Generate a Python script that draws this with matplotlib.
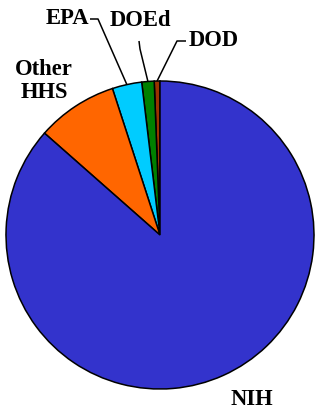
import numpy as np
import matplotlib
matplotlib.use("Agg")
import matplotlib.pyplot as plt

# Data (counterclockwise from top)
labels = ["DOD", "DOEd", "EPA", "Other\nHHS", "NIH"]
values = [0.6, 1.3, 3.1, 8.5, 86.5]
colors = ["#993300", "#008000", "#00CCFF", "#FF6600", "#3333CC"]

W, H = 316, 410
fig = plt.figure(figsize=(W / 100, H / 100), dpi=100)
ax = fig.add_axes([0, 0, 1, 1])

cx, cy, r = 160, H - 236, 154
wedges, _ = ax.pie(values, colors=colors, startangle=90, counterclock=True,
                   center=(cx, cy), radius=r, frame=True,
                   wedgeprops=dict(edgecolor="black", linewidth=1.1))
ax.set_xlim(0, W)
ax.set_ylim(0, H)
ax.set_aspect("equal")
ax.axis("off")

font = dict(family=["Liberation Serif", "DejaVu Serif"], fontweight="bold",
            fontsize=16.3, color="black")

# label text positions (pixel coords, y from top) and leader elbows
label_pos = {
    "DOD": (214, 40),
    "DOEd": (140, 20),
    "EPA": (67, 19),
    "Other\nHHS": (44, 81),
    "NIH": (252, 400),
}
leaders = {
    "DOD": [(186, 42), (177, 42)],
    "DOEd": [(139, 42), (140, 50)],
    "EPA": [(90, 20), (98, 20)],
}

for w, lab in zip(wedges, labels):
    x, y = label_pos[lab]
    ax.text(x, H - y, lab, ha="center", va="center", linespacing=1.15, **font)
    if lab in leaders:
        mid = np.deg2rad((w.theta1 + w.theta2) / 2)
        ex, ey = cx + r * np.cos(mid), cy + r * np.sin(mid)
        pts = [(px, H - py) for px, py in leaders[lab]] + [(ex, ey)]
        xs, ys = zip(*pts)
        ax.plot(xs, ys, color="black", linewidth=1.1, solid_capstyle="butt")

fig.savefig("out.png", dpi=100)
